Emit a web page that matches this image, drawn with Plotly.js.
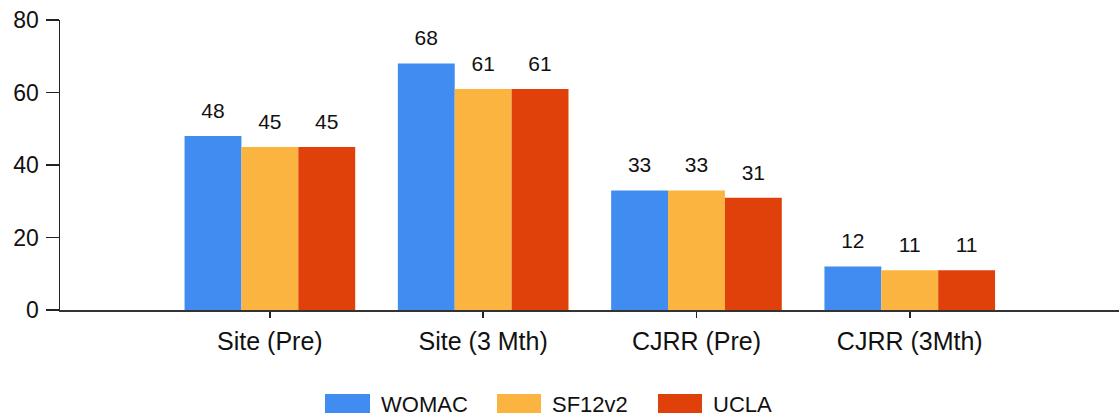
<!DOCTYPE html>
<html>
<head>
<meta charset="utf-8">
<script src="https://cdn.plot.ly/plotly-3.0.1.min.js"></script>
<style>html,body{margin:0;padding:0;background:#fff;}#chart{width:1119px;height:419px;}</style>
</head>
<body>
<div id="chart"></div>
<script>
const categories = ['Site (Pre)', 'Site (3 Mth)', 'CJRR (Pre)', 'CJRR (3Mth)'];
const seriesNames = ['WOMAC', 'SF12v2', 'UCLA'];
const womac = [48, 68, 33, 12];
const sf12v2 = [45, 61, 33, 11];
const ucla = [45, 61, 31, 11];
const seriesColors = ['#418CF0', '#FCB441', '#E0400A'];
const yTicks = [0, 20, 40, 60, 80];

const seriesValues = [womac, sf12v2, ucla];
const FONT = 'Liberation Sans, Arial, sans-serif';
const W = 1119, H = 419;
const M = {l: 60, r: 0, t: 20, b: 109};
const PW = W - M.l - M.r, PH = H - M.t - M.b;
const px2x = p => (p - M.l) / PW;
const py2y = p => (H - M.b - p) / PH;

const traces = [];
seriesValues.forEach((vals, i) => {
  traces.push({
    type: 'bar', name: seriesNames[i], x: categories, y: vals,
    offsetgroup: seriesNames[i],
    marker: {color: seriesColors[i], line: {width: 0}},
    showlegend: false, hoverinfo: 'x+y+name'
  });
});
seriesValues.forEach((vals, i) => {
  traces.push({
    type: 'scatter', mode: 'markers+text', x: categories, y: vals,
    offsetgroup: seriesNames[i],
    text: vals.map(String), textposition: 'top center',
    textfont: {family: FONT, size: 21, color: '#111'},
    marker: {size: 19, color: 'rgba(0,0,0,0)'},
    showlegend: false, hoverinfo: 'skip', cliponaxis: false
  });
});

// custom legend (wide swatches)
const legendSwatches = [[325, 370], [497, 541], [658, 702]];
const shapes = [], annotations = [];
seriesNames.forEach((n, i) => {
  const [a, b] = legendSwatches[i];
  shapes.push({type: 'rect', xref: 'paper', yref: 'paper',
    x0: px2x(a), x1: px2x(b), y0: py2y(413), y1: py2y(394),
    fillcolor: seriesColors[i], line: {width: 0}});
  annotations.push({xref: 'paper', yref: 'paper', x: px2x(b + 9), y: py2y(404),
    xanchor: 'left', yanchor: 'middle', showarrow: false, text: n,
    font: {family: FONT, size: 22, color: '#111'}});
});

const layout = {
  width: W, height: H, margin: M,
  paper_bgcolor: '#fff', plot_bgcolor: '#fff',
  barmode: 'group', bargap: 0.2, bargroupgap: 0,
  scattermode: 'group', scattergap: 0.2,
  showlegend: false,
  font: {family: FONT, color: '#111'},
  xaxis: {
    type: 'category', range: [-0.984, 3.981],
    showline: true, linecolor: '#333', linewidth: 1.5,
    ticks: 'outside', ticklen: 6, tickcolor: '#222', tickwidth: 1.5,
    tickfont: {family: FONT, size: 25, color: '#111'},
    ticklabelstandoff: 2,
    showgrid: false, zeroline: false, fixedrange: true
  },
  yaxis: {
    range: [0, 80], tickvals: yTicks, ticktext: yTicks.map(String),
    showline: true, linecolor: '#222', linewidth: 1.5,
    ticks: 'outside', ticklen: 13, tickcolor: '#222', tickwidth: 1.5,
    tickfont: {family: FONT, size: 23, color: '#111'},
    ticklabelstandoff: 2,
    showgrid: false, zeroline: false, fixedrange: true
  },
  shapes: shapes, annotations: annotations
};
Plotly.newPlot('chart', traces, layout, {displayModeBar: false, staticPlot: true});
</script>
</body>
</html>
